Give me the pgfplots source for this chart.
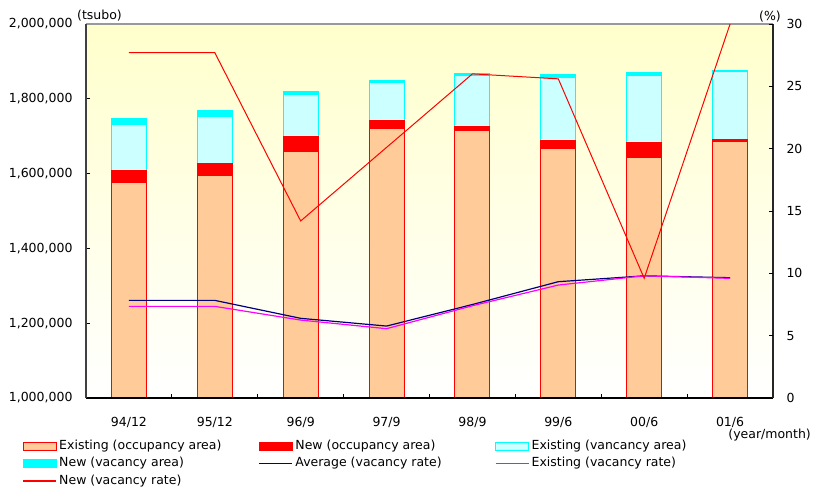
\documentclass[border=0pt]{standalone}
\usepackage{fontspec}
\setmainfont{DejaVu Sans}
\usepackage{pgfplots}
\usepackage{pgfplotstable}
\pgfplotsset{compat=1.18}
\definecolor{occ}{HTML}{FFCC99}
\definecolor{lcyan}{HTML}{CCFFFF}
\definecolor{bgyel}{HTML}{FFFFCC}
\definecolor{navyc}{HTML}{000080}
\definecolor{cyanc}{HTML}{00FFFF}
\definecolor{magc}{HTML}{FF00FF}
\definecolor{vred}{HTML}{FF0000}
\pgfplotstableread{
x eocc nocc evac nvac
0 1575000 32000 123000 16000
1 1596000 30500 127500 14000
2 1658000 42000 111000 9000
3 1721000 20000 102000 5500
4 1715000 10500 137500 5000
5 1667000 21000 169000 8000
6 1642000 42000 177000 10000
7 1686000 6500 180500 3000
}\bars
\pgfplotstableread{
x avg exist new
0 7.83 7.35 27.7
1 7.83 7.35 27.7
2 6.39 6.25 14.2
3 5.77 5.56 20.1
4 7.50 7.40 26.0
5 9.33 9.06 25.6
6 9.80 9.80 9.6
7 9.65 9.60 30.0
}\rates
\begin{document}
\begin{tikzpicture}
\begin{axis}[
  at={(86bp,90bp)}, anchor=south west,
  width=687bp, height=374bp, scale only axis,
  font=\fontsize{12.5bp}{15bp}\selectfont,
  ybar stacked, bar width=35bp,
  xmin=-0.5, xmax=7.5, ymin=1000000, ymax=2000000,
  xtick={0,...,7},
  xticklabels={94/12,95/12,96/9,97/9,98/9,99/6,00/6,01/6},
  major x tick style={draw=none},
  minor xtick={0.5,1.5,...,6.5},
  minor x tick style={black, line width=0.8bp},
  minor tick length=4bp,
  xticklabel style={yshift=-16bp},
  ytick={1000000,1200000,...,2000000},
  major y tick style={black, line width=0.8bp},
  major tick length=4bp,
  scaled y ticks=false,
  yticklabel style={/pgf/number format/fixed, /pgf/number format/1000 sep={,}, /pgf/number format/assume math mode=true, xshift=-10bp},
  ytick pos=left, xtick pos=bottom,
  tick align=inside,
  axis line style={draw=none},
  axis background/.style={top color=bgyel, bottom color=white},
  after end axis/.code={
    \draw[line width=1.5bp, gray!80] (rel axis cs:0,1) -- (rel axis cs:1,1);
    \draw[line width=1.5bp, black] (rel axis cs:0,0) -- (rel axis cs:1,0);
    \draw[line width=2bp, black!75] (rel axis cs:0,0) -- (rel axis cs:0,1);
    \draw[line width=1.5bp, black!85] (rel axis cs:1,0) -- (rel axis cs:1,1);
  },
]
\addplot[fill=occ, draw=vred, line width=1bp] table[x=x, y=eocc] {\bars};
\addplot[fill=vred, draw=vred, line width=1bp] table[x=x, y=nocc] {\bars};
\addplot[fill=lcyan, draw=cyanc, line width=1bp] table[x=x, y=evac] {\bars};
\addplot[fill=cyanc, draw=cyanc, line width=1bp] table[x=x, y=nvac] {\bars};
\end{axis}
\begin{axis}[
  at={(86bp,90bp)}, anchor=south west,
  width=687bp, height=374bp, scale only axis,
  font=\fontsize{12.5bp}{15bp}\selectfont,
  xmin=-0.5, xmax=7.5, ymin=0, ymax=30,
  hide x axis,
  axis y line*=right,
  axis line style={draw=none},
  ytick={0,5,...,30},
  major y tick style={black, line width=0.8bp},
  major tick length=4bp,
  tick align=inside,
  yticklabel style={/pgf/number format/assume math mode=true, xshift=10bp},
  legend columns=3,
  legend style={draw=none, fill=none, at={(axis description cs:-0.097,-0.106)}, anchor=north west,
    nodes={inner xsep=2.5bp, inner ysep=0bp, anchor=west, text height=9.5bp, text depth=3bp},
    row sep=5bp, /tikz/every even column/.append style={column sep=0bp},
    font=\fontsize{12.5bp}{15bp}\selectfont},
]
\addlegendimage{legend image code/.code={\draw[fill=occ, draw=vred, line width=1bp] (0bp,-4bp) rectangle (33bp,4bp);}}
\addlegendentry{\makebox[197bp][l]{Existing (occupancy area)}}
\addlegendimage{legend image code/.code={\draw[fill=vred, draw=vred, line width=1bp] (0bp,-4bp) rectangle (33bp,4bp);}}
\addlegendentry{\makebox[197bp][l]{New (occupancy area)}}
\addlegendimage{legend image code/.code={\draw[fill=lcyan, draw=cyanc, line width=1bp] (0bp,-4bp) rectangle (33bp,4bp);}}
\addlegendentry{\makebox[197bp][l]{Existing (vancancy area)}}
\addlegendimage{legend image code/.code={\draw[fill=cyanc, draw=cyanc, line width=1bp] (0bp,-4bp) rectangle (33bp,4bp);}}
\addlegendentry{\makebox[197bp][l]{New (vacancy area)}}
\addlegendimage{legend image code/.code={\draw[draw=navyc, line width=1.2bp] (0bp,0bp) -- (33bp,0bp);}}
\addlegendentry{\makebox[197bp][l]{Average (vacancy rate)}}
\addlegendimage{legend image code/.code={\draw[draw=magc, line width=1.2bp] (0bp,0bp) -- (33bp,0bp);}}
\addlegendentry{\makebox[197bp][l]{Existing (vacancy rate)}}
\addlegendimage{legend image code/.code={\draw[draw=red, line width=1.2bp] (0bp,0bp) -- (33bp,0bp);}}
\addlegendentry{\makebox[197bp][l]{New (vacancy rate)}}
\addplot[color=navyc, line width=1.2bp, forget plot] table[x=x, y=avg] {\rates};
\addplot[color=magc, line width=1.2bp, forget plot] table[x=x, y=exist] {\rates};
\addplot[color=vred, line width=1bp, forget plot] table[x=x, y=new] {\rates};
\end{axis}
\node[anchor=west, font=\fontsize{12.5bp}{15bp}\selectfont, inner sep=0] at (77bp,472bp) {(tsubo)};
\node[anchor=east, font=\fontsize{12.5bp}{15bp}\selectfont, inner sep=0] at (781bp,471bp) {(\%)};
\node[anchor=east, font=\fontsize{12.5bp}{15bp}\selectfont, inner sep=0] at (811bp,53bp) {(year/month)};
\pgfresetboundingbox
\useasboundingbox (0bp,0bp) rectangle (816bp,488bp);
\end{tikzpicture}
\end{document}
